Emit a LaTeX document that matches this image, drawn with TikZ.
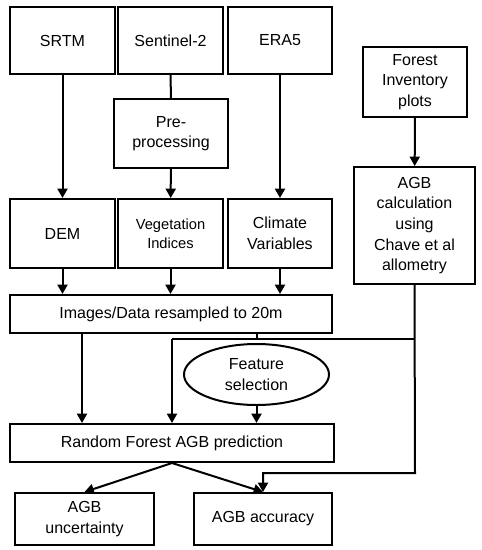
\documentclass[tikz,border=0pt]{standalone}
\usepackage{fontspec}
\setmainfont{Liberation Sans}
\usetikzlibrary{arrows.meta, positioning, shapes}

\begin{document}
\begin{tikzpicture}[x=0.75pt, y=-0.75pt,
    box/.style={draw, line width=1.5pt, align=center, inner sep=0pt, font=\fontsize{12}{15.5}\selectfont},
    flow/.style={line width=1.5pt, -{Triangle[length=7pt, width=7.5pt]}},
    link/.style={line width=1.5pt}]
    \useasboundingbox (0,0) rectangle (482,550);

    % Data sources
    \node[box, minimum width=105*0.75pt, minimum height=67*0.75pt] (srtm) at (62.5, 40.5) {SRTM};
    \node[box, minimum width=105*0.75pt, minimum height=67*0.75pt] (sentinel) at (170.5, 40.5) {Sentinel-2};
    \node[box, minimum width=104*0.75pt, minimum height=67*0.75pt] (era) at (280, 40.5) {ERA5};
    \node[box, minimum width=104*0.75pt, minimum height=70*0.75pt] (forest) at (415, 82) {Forest\\Inventory\\plots};

    \node[box, minimum width=114*0.75pt, minimum height=69*0.75pt] (pre) at (171, 133.5) {Pre-\\processing};
    \node[box, minimum width=121*0.75pt, minimum height=117*0.75pt] (agbcalc) at (414.5, 225.5) {AGB\\calculation\\using\\Chave et al\\allometry};

    % Derived layers
    \node[box, minimum width=105*0.75pt, minimum height=69*0.75pt] (dem) at (62.5, 233.5) {DEM};
    \node[box, minimum width=105*0.75pt, minimum height=69*0.75pt, font=\fontsize{11}{14}\selectfont] (veg) at (170.5, 233.5) {Vegetation\\Indices};
    \node[box, minimum width=104*0.75pt, minimum height=69*0.75pt] (clim) at (280, 233.5) {Climate\\Variables};

    \node[box, minimum width=322*0.75pt, minimum height=38*0.75pt] (images) at (171, 314) {Images/Data resampled to 20m};
    \node[box, ellipse, minimum width=145*0.75pt, minimum height=61*0.75pt] (feat) at (256.5, 374.5) {Feature\\selection};
    \node[box, minimum width=324*0.75pt, minimum height=38*0.75pt] (rf) at (172, 443) {Random Forest AGB prediction};

    % Outputs
    \node[box, minimum width=139*0.75pt, minimum height=52*0.75pt] (unc) at (84.5, 519) {AGB\\uncertainty};
    \node[box, minimum width=138*0.75pt, minimum height=52*0.75pt] (acc) at (263, 519) {AGB accuracy};

    % Junction points
    \coordinate (split) at (82, 333);
    \coordinate (join) at (172, 339);
    \coordinate (turn) at (415, 473);

    % Connectors
    \draw[flow] (srtm) -- (dem);
    \draw[link] (sentinel) -- (pre);
    \draw[flow] (pre) -- (veg);
    \draw[flow] (era) -- (clim);
    \draw[flow] (forest) -- (agbcalc);
    \draw[flow] (dem) -- (dem.south |- images.north);
    \draw[flow] (veg) -- (veg.south |- images.north);
    \draw[flow] (clim) -- (clim.south |- images.north);
    \draw[flow] (split) -- (split |- rf.north);
    \draw[link] (images.south -| feat.north) -- (feat.north |- join);
    \draw[link] (join) -- (join -| agbcalc.south);
    \draw[flow] (join) -- (rf.north);
    \draw[flow] (feat) -- (feat.south |- rf.north);
    \draw[flow] (agbcalc.south) -- (turn) -| (acc.north);
    \draw[flow] (rf.south) -- (unc.north);
    \draw[flow] (rf.south) -- (acc.north);

\end{tikzpicture}
\end{document}
